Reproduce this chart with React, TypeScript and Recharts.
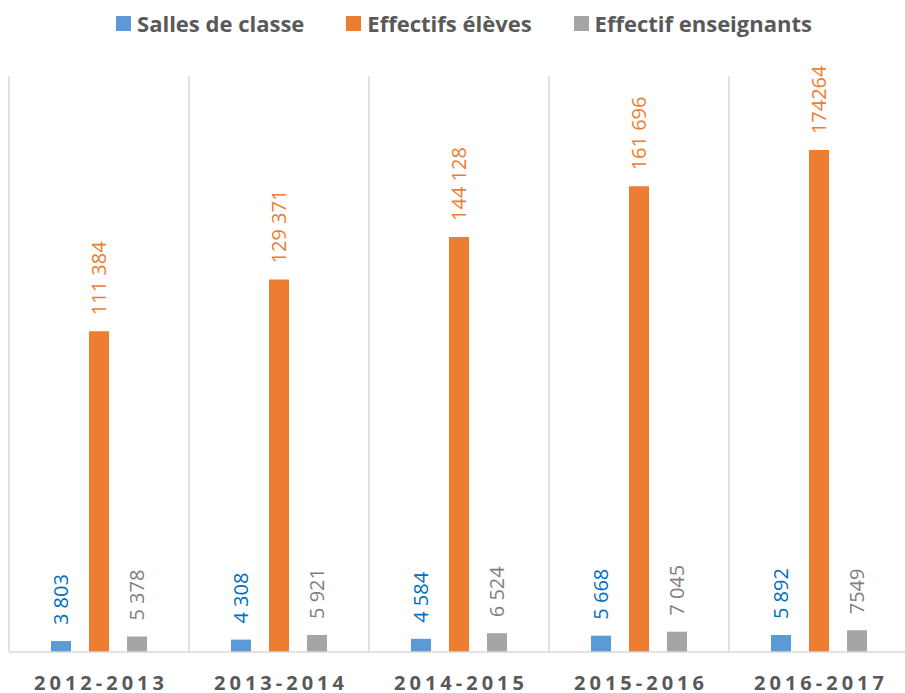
import React from 'react';
import { BarChart, Bar, XAxis, YAxis, CartesianGrid, Legend, LabelList } from 'recharts';

const categories = ['2012-2013', '2013-2014', '2014-2015', '2015-2016', '2016-2017'];
const salles = [3803, 4308, 4584, 5668, 5892];
const eleves = [111384, 129371, 144128, 161696, 174264];
const enseignants = [5378, 5921, 6524, 7045, 7549];
const sallesLabels = ['3 803', '4 308', '4 584', '5 668', '5 892'];
const elevesLabels = ['111 384', '129 371', '144 128', '161 696', '174264'];
const enseignantsLabels = ['5 378', '5 921', '6 524', '7 045', '7549'];
const gridBoundaries = [0, 1, 2, 3, 4, 5];

const seriesNames = ['Salles de classe', 'Effectifs élèves', 'Effectif enseignants'];
const barColors = ['#5B9BD5', '#ED7D31', '#A5A5A5'];
const labelColors = ['#0070C0', '#ED7D31', '#7F7F7F'];

const data = categories.map((c, i) => ({
  cat: c,
  salles: salles[i],
  eleves: eleves[i],
  enseignants: enseignants[i],
  sallesLabel: sallesLabels[i],
  elevesLabel: elevesLabels[i],
  enseignantsLabel: enseignantsLabels[i],
}));

const FONT = "'Open Sans', 'Noto Sans', sans-serif";

const makeLabel = (color: string) => (props: any) => {
  const vb = props.viewBox || props;
  const cx = vb.x + vb.width / 2;
  const top = Math.min(vb.y, vb.y + vb.height);
  const y = top - 16;
  return (
    <text
      x={cx}
      y={y}
      transform={`rotate(-90, ${cx}, ${y})`}
      fill={color}
      fontSize={20}
      fontFamily={FONT}
      textAnchor="start"
      dominantBaseline="central"
    >
      {props.value}
    </text>
  );
};

const Tick = (props: any) => {
  const { x, y, payload } = props;
  return (
    <text
      x={x + 2}
      y={y + 30}
      textAnchor="middle"
      dominantBaseline="central"
      fill="#595959"
      fontSize={20}
      fontWeight="bold"
      fontFamily={FONT}
      letterSpacing={4}
    >
      {payload.value}
    </text>
  );
};

const LegendContent = () => (
  <div
    style={{
      height: 68,
      display: 'flex',
      justifyContent: 'center',
      alignItems: 'flex-start',
      paddingLeft: 10,
      boxSizing: 'border-box',
      fontFamily: FONT,
    }}
  >
    {seriesNames.map((n, i) => (
      <div
        key={n}
        style={{
          display: 'flex',
          alignItems: 'center',
          height: 30,
          marginRight: i < seriesNames.length - 1 ? 42 : 0,
        }}
      >
        <span
          style={{ display: 'inline-block', width: 15, height: 15, background: barColors[i], marginRight: 6 }}
        />
        <span style={{ fontSize: 22, fontWeight: 'bold', color: '#595959', lineHeight: '30px' }}>{n}</span>
      </div>
    ))}
  </div>
);

const boundaryGenerator = (props: any) => {
  const off = props.offset;
  return gridBoundaries.map((b) => off.left + (b * off.width) / categories.length);
};

export default function App() {
  return (
    <div style={{ position: 'absolute', left: 8, top: 8, width: 897, height: 685, overflow: 'hidden' }}>
      <BarChart
        width={902}
        height={685}
        data={data}
        margin={{ top: 0, right: 1, bottom: 0, left: 1 }}
        barSize={20}
        barGap={18}
      >
        <Legend
          verticalAlign="top"
          content={LegendContent}
          wrapperStyle={{ top: 0, left: 0, width: 902, height: 68 }}
        />
        <CartesianGrid
          horizontal={false}
          stroke="#D9D9D9"
          strokeWidth={1.5}
          verticalCoordinatesGenerator={boundaryGenerator}
        />
        <XAxis
          dataKey="cat"
          height={41}
          tickSize={0}
          tickMargin={0}
          tick={<Tick />}
          axisLine={{ stroke: '#D9D9D9', strokeWidth: 1.5 }}
          tickLine={false}
          interval={0}
        />
        <YAxis hide domain={[0, 200000]} />
        <Bar dataKey="salles" fill={barColors[0]} isAnimationActive={false}>
          <LabelList dataKey="sallesLabel" content={makeLabel(labelColors[0])} />
        </Bar>
        <Bar dataKey="eleves" fill={barColors[1]} isAnimationActive={false}>
          <LabelList dataKey="elevesLabel" content={makeLabel(labelColors[1])} />
        </Bar>
        <Bar dataKey="enseignants" fill={barColors[2]} isAnimationActive={false}>
          <LabelList dataKey="enseignantsLabel" content={makeLabel(labelColors[2])} />
        </Bar>
      </BarChart>
    </div>
  );
}
